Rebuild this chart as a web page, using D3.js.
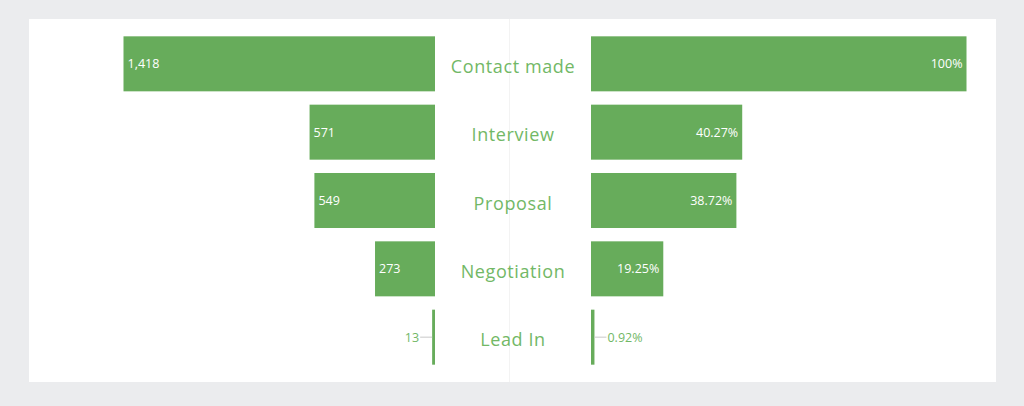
<!DOCTYPE html>
<html>
<head>
<meta charset="utf-8">
<script src="https://cdn.jsdelivr.net/npm/d3@7"></script>
<style>
  body { margin: 0; background: #ebecee; font-family: 'Open Sans', sans-serif; }
  svg { display: block; }
</style>
</head>
<body>
<div id="chart"></div>
<script>
const stages = ['Contact made', 'Interview', 'Proposal', 'Negotiation', 'Lead In']
const counts = [1418, 571, 549, 273, 13]
const percents = [100, 40.27, 38.72, 19.25, 0.92]

const svgWidth = 1024
const svgHeight = 406
const card = {x: 29, y: 19, w: 967, h: 363}
const green = '#67ac5b'
const labelGreen = '#72b866'

const leftEdge = 435   // right edge of the count bars
const rightEdge = 591  // left edge of the percent bars

let svg = d3.select('#chart')
  .append('svg')
  .attr('width', svgWidth)
  .attr('height', svgHeight)

svg.append('rect')
  .attr('x', card.x)
  .attr('y', card.y)
  .attr('width', card.w)
  .attr('height', card.h)
  .attr('fill', '#fff')

// faint centre line
svg.append('line')
  .attr('x1', 509.5).attr('x2', 509.5)
  .attr('y1', card.y).attr('y2', card.y + card.h)
  .attr('stroke', '#f3f3f3')
  .attr('stroke-width', 1)

let yScale = d3.scaleBand()
  .domain(stages)
  .range([23, 378])
  .padding(0.195)

let countScale = d3.scaleLinear()
  .domain([0, d3.max(counts)])
  .range([0, 311.5])

let pctScale = d3.scaleLinear()
  .domain([0, 100])
  .range([0, 375.5])

let rows = stages.map((s, i) => ({stage: s, count: counts[i], pct: percents[i]}))
const fmtCount = d3.format(',')
const fmtPct = d => (d === 100 ? '100' : d3.format('.2f')(d)) + '%'

// left bars (counts)
svg.selectAll('.bar-left')
  .data(rows)
  .enter()
  .append('rect')
  .attr('class', 'bar-left')
  .attr('x', d => leftEdge - countScale(d.count))
  .attr('y', d => yScale(d.stage))
  .attr('width', d => countScale(d.count))
  .attr('height', yScale.bandwidth())
  .attr('fill', green)

// right bars (percent)
svg.selectAll('.bar-right')
  .data(rows)
  .enter()
  .append('rect')
  .attr('class', 'bar-right')
  .attr('x', rightEdge)
  .attr('y', d => yScale(d.stage))
  .attr('width', d => pctScale(d.pct))
  .attr('height', yScale.bandwidth())
  .attr('fill', green)

const mid = d => yScale(d.stage) + yScale.bandwidth() / 2

// count labels: inside if it fits, otherwise outside with a leader line
rows.forEach(d => {
  let w = countScale(d.count)
  if (w > 40) {
    svg.append('text')
      .attr('x', leftEdge - w + 4)
      .attr('y', mid(d))
      .attr('dy', '0.35em')
      .attr('fill', '#fff')
      .attr('font-size', 12.5)
      .text(fmtCount(d.count))
  } else {
    let x0 = leftEdge - w
    svg.append('line')
      .attr('x1', x0 - 12).attr('x2', x0)
      .attr('y1', mid(d)).attr('y2', mid(d))
      .attr('stroke', '#c8c8c8')
    svg.append('text')
      .attr('x', x0 - 13)
      .attr('y', mid(d))
      .attr('dy', '0.35em')
      .attr('text-anchor', 'end')
      .attr('fill', labelGreen)
      .attr('font-size', 12.5)
      .text(fmtCount(d.count))
  }
})

rows.forEach(d => {
  let w = pctScale(d.pct)
  if (w > 50) {
    svg.append('text')
      .attr('x', rightEdge + w - 4)
      .attr('y', mid(d))
      .attr('dy', '0.35em')
      .attr('text-anchor', 'end')
      .attr('fill', '#fff')
      .attr('font-size', 12.5)
      .text(fmtPct(d.pct))
  } else {
    let x0 = rightEdge + w
    svg.append('line')
      .attr('x1', x0).attr('x2', x0 + 12)
      .attr('y1', mid(d)).attr('y2', mid(d))
      .attr('stroke', '#c8c8c8')
    svg.append('text')
      .attr('x', x0 + 13)
      .attr('y', mid(d))
      .attr('dy', '0.35em')
      .attr('fill', labelGreen)
      .attr('font-size', 12.5)
      .text(fmtPct(d.pct))
  }
})

// stage names between the two halves
svg.selectAll('.stage')
  .data(rows)
  .enter()
  .append('text')
  .attr('class', 'stage')
  .attr('x', (leftEdge + rightEdge) / 2)
  .attr('y', d => mid(d) + 3)
  .attr('dy', '0.35em')
  .attr('text-anchor', 'middle')
  .attr('fill', labelGreen)
  .attr('font-size', 18)
  .attr('letter-spacing', 0.6)
  .text(d => d.stage)
</script>
</body>
</html>
